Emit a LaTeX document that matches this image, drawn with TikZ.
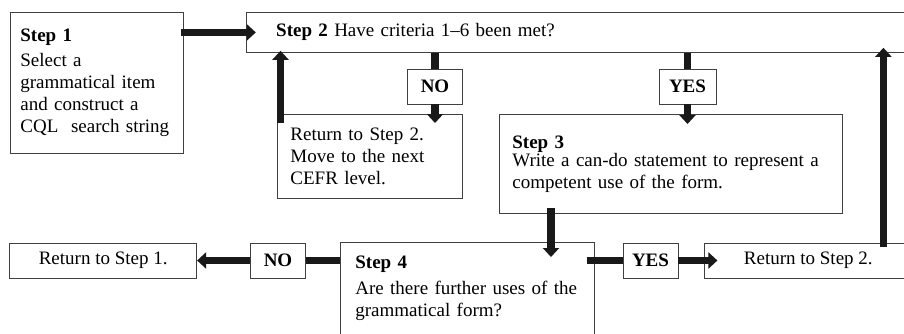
\documentclass[tikz,border=0pt]{standalone}
\usepackage{fontspec}
\setmainfont{Liberation Serif}
\usetikzlibrary{arrows.meta, positioning}

\begin{document}
\begin{tikzpicture}[
x=1pt, y=-1pt,
stepbox/.style={draw=black!75, line width=0.8pt, rectangle, align=left, anchor=north west,
  inner ysep=0pt, font=\fontsize{19}{22}\selectfont},
flagbox/.style={draw=black!75, line width=0.8pt, rectangle, minimum width=55pt, minimum height=35pt,
  inner sep=0pt, font=\fontsize{19}{22}\selectfont\bfseries},
backbox/.style={draw=black!75, line width=0.8pt, rectangle, minimum height=35pt,
  inner sep=0pt, font=\fontsize{19}{22}\selectfont},
thickline/.style={line width=7.5pt, draw=black!90},
arrow/.style={thickline, -{Triangle[length=9pt, width=16pt]}}
]
\useasboundingbox (0,0) rectangle (904,333);
\clip (0,0) rectangle (904,333);

% boxes
\node[stepbox, minimum width=173pt, minimum height=141pt, text width=153pt, inner xsep=10pt] (step1) at (10,12)
{\textbf{Step 1}\\[3pt] Select a\\ grammatical item\\ and construct a\\ CQL\ \ search string};

\node[stepbox, minimum height=40pt, text width=606pt, inner xsep=30pt, right=62pt of step1.north east, anchor=north west] (step2)
{\textbf{Step 2} Have criteria 1–6 been met?};

\node[stepbox, minimum width=185pt, minimum height=84pt, text width=159pt, inner xsep=13pt] (cefr) at (277,114)
{Return to Step 2.\\ Move to the next\\ CEFR level.};

\node[stepbox, minimum width=343pt, minimum height=99pt, text width=317pt, inner xsep=13pt] (step3) at (499,114)
{\textbf{Step 3}\\[-4pt] Write a can-do statement to represent a\\ competent use of the form.};

\node[stepbox, text width=224pt, inner xsep=15pt, inner ysep=14pt, text depth=95pt] (step4) at (340,242)
{\textbf{Step 4}\\[4pt] Are there further uses of the\\ grammatical form?};

\node[flagbox] (noA) at (435,86.5) {NO};
\node[flagbox, minimum width=57pt] (yesA) at (687.5,86.5) {YES};
\node[flagbox] (noB) at (278,260.5) {NO};
\node[flagbox] (yesB) at (650.5,260.5) {YES};

\node[backbox, minimum width=187pt, left=53pt of noB] (ret1) {Return to Step 1.};
\node[backbox, minimum width=207pt, right=26pt of yesB] (ret2) {Return to Step 2.};

% connectors
\draw[arrow] ([xshift=-3pt]step1.east |- step2.west) -- ([xshift=10pt]step2.west);
\draw[arrow] ([xshift=3.5pt,yshift=-9pt]cefr.north west) -- ([xshift=3.5pt,yshift=2pt]cefr.north west |- step2.south);
\draw[thickline] (noA.north |- step2.south) -- (noA.north);
\draw[arrow] (noA.south) -- ([yshift=-9pt]noA.south |- cefr.north);
\draw[thickline] (yesA.north |- step2.south) -- (yesA.north);
\draw[arrow] (yesA.south) -- ([yshift=-10pt]yesA.south |- step3.north);
\draw[arrow] ([xshift=52pt,yshift=6pt]step3.south west) -- ([xshift=52pt,yshift=-15pt]step3.south west |- step4.north);
\draw[thickline] (step4.north west |- noB.east) -- (noB.east);
\draw[arrow] (noB.west) -- (ret1.east);
\draw[thickline] ([xshift=-8pt]step4.north east |- yesB.west) -- (yesB.west);
\draw[arrow] (yesB.east) -- ([xshift=13pt]ret2.west);
\draw[arrow] ([xshift=179pt,yshift=-4pt]ret2.north west) -- ([xshift=179pt,yshift=5pt]ret2.north west |- step2.south);

\end{tikzpicture}
\end{document}
